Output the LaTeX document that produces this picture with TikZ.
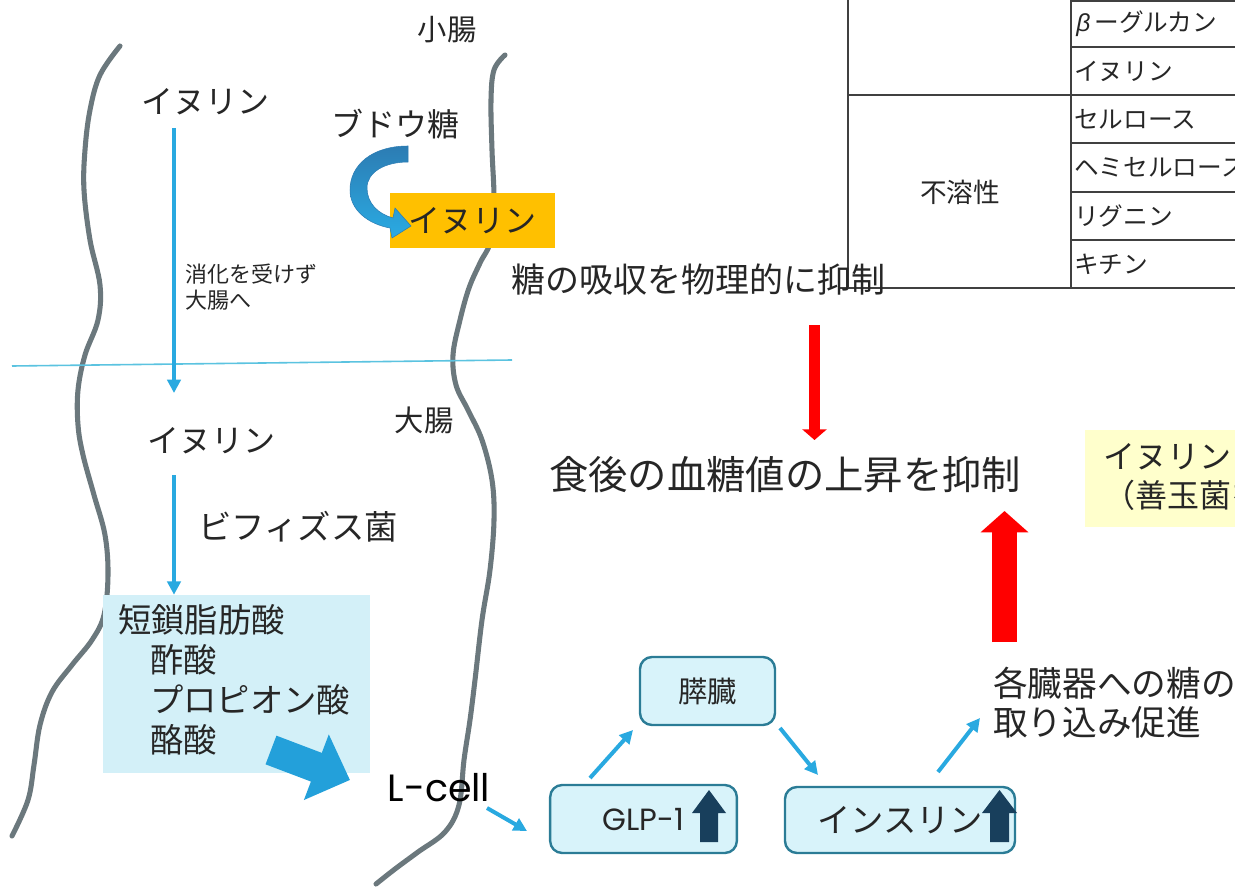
\documentclass[tikz,border=0pt]{standalone}
\usepackage{fontspec}
\setmainfont{Noto Sans CJK JP}
\newfontfamily\geo{Poppins}
\newfontfamily\grk{Liberation Sans}
\usetikzlibrary{arrows.meta}
\definecolor{textc}{HTML}{262626}
\definecolor{flowblue}{HTML}{29A9E0}
\definecolor{gutgray}{HTML}{6B787D}
\definecolor{sepblue}{HTML}{5BC3E0}
\definecolor{scfafill}{HTML}{D3F0F8}
\definecolor{boxfill}{HTML}{D8F3FA}
\definecolor{boxline}{HTML}{2B7C96}
\definecolor{navyarrow}{HTML}{183F5C}
\definecolor{inuorange}{HTML}{FFC000}
\definecolor{yelfill}{HTML}{FFFFCC}
\definecolor{tablegray}{HTML}{404040}
\definecolor{blockblue}{HTML}{23A0DA}
\definecolor{curvetop}{HTML}{2C7CB3}
\definecolor{curvebot}{HTML}{2AABE3}
\newcommand\fsz[2]{\fontsize{#1}{#2}\selectfont}
\begin{document}
\begin{tikzpicture}[x=0.75pt,y=-0.75pt,
  txt/.style={inner sep=0pt, text=textc},
  flow/.style={draw=flowblue, line width=3pt, -{Triangle[width=10pt,length=10pt]}},
  rbox/.style={draw=boxline, line width=1.8pt, fill=boxfill, rounded corners=9pt, inner sep=0pt, text=textc},
  gut/.style={draw=gutgray, line width=3.8pt, line cap=round, line join=round},
  tline/.style={draw=tablegray, line width=0.9pt},
  upmark/.style={fill=navyarrow},
  redarrow/.style={draw=red}
]
\useasboundingbox (0,0) rectangle (1235,888);
\begin{scope}
\clip (0,0) rectangle (1235,888);

% gut walls
\draw[gut] plot[smooth, tension=0.6] coordinates {(120,46) (100,75) (90,110) (85,150) (84,190) (90,240) (100,285) (98,320) (85,355) (78,390) (78,425) (83,455) (94,495) (105,535) (108,575) (104,615) (92,640) (72,665) (52,692) (40,725) (34,765) (28,800) (12,836)};
\draw[gut] plot[smooth, tension=0.6] coordinates {(505,55) (494,70) (491,100) (492,150) (494,200) (491,240) (480,263) (469,288) (460,320) (453,355) (456,385) (468,410) (482,440) (492,480) (494,520) (490,570) (482,620) (475,680) (470,720) (464,760) (459,805) (445,832) (418,852) (395,869) (376,884)};

% separator
\draw[draw=sepblue, line width=1.2pt] (12,366) -- (512,360);

% table
\draw[tline] (848,0) -- (848,288);
\draw[tline] (1071,0) -- (1071,288);
\draw[tline] (1071,1) -- (1235,1);
\draw[tline] (1071,47) -- (1235,47);
\draw[tline] (848,95) -- (1235,95);
\draw[tline] (1071,143) -- (1235,143);
\draw[tline] (1071,192) -- (1235,192);
\draw[tline] (1071,240) -- (1235,240);
\draw[tline] (840,288) -- (1235,288);
\node[txt, anchor=west, font=\fsz{18.5}{22}] (t1) at (1076,24) {{\grk\itshape β}\,ーグルカン};
\node[txt, anchor=west, font=\fsz{18.5}{22}] (t2) at (1074,71) {イヌリン};
\node[txt, anchor=west, font=\fsz{18.5}{22}] (t3) at (1074,119) {セルロース};
\node[txt, anchor=west, font=\fsz{18.5}{22}] (t4) at (1074,167) {ヘミセルロース};
\node[txt, anchor=west, font=\fsz{18.5}{22}] (t5) at (1074,216) {リグニン};
\node[txt, anchor=west, font=\fsz{18.5}{22}] (t6) at (1074,264) {キチン};
\node[txt, font=\fsz{20}{24}] (fuyo) at (960,192) {不溶性};

% small intestine part
\node[txt, font=\fsz{22}{26}] (shocho) at (447,30) {小腸};
\node[txt, font=\fsz{24}{28}] (inu1) at (205,102) {イヌリン};
\node[txt, font=\fsz{24}{28}] (budo) at (395,124) {ブドウ糖};
\node[fill=inuorange, minimum width=123.75pt, minimum height=41.25pt, inner sep=0pt, text=textc, font=\fsz{24}{28}] (inuy) at (472.5,220.5) {イヌリン};
\shade[top color=curvetop, bottom color=curvebot, draw=curvetop, line width=0.4pt]
  (408,146) .. controls (372,146) and (350,165) .. (350,190)
  .. controls (350,210) and (368,224) .. (390,228)
  -- (392,238) -- (411,226) -- (395,208) -- (393,218)
  .. controls (378,214) and (367,203) .. (367,188)
  .. controls (367,172) and (385,162) .. (408,162) -- cycle;
\node[txt, anchor=west, align=left, font=\fsz{16.5}{19.5}] (shou) at (185,287) {消化を受けず\\大腸へ};
\coordinate (a1s) at (174,128);
\coordinate (a1e) at (174,393);
\draw[flow] (a1s) -- (a1e);

% large intestine part
\node[txt, font=\fsz{22}{26}] (daicho) at (424,420) {大腸};
\node[txt, font=\fsz{24}{28}] (inu2) at (211,441) {イヌリン};
\node[txt, font=\fsz{25}{29}] (bifi) at (298,527) {ビフィズス菌};
\node[fill=scfafill, minimum width=200.25pt, minimum height=133.5pt, inner sep=0pt] (scfa) at (236.5,684) {};
\coordinate (a2s) at (174,475);
\draw[flow] (a2s) -- (scfa.north -| a2s);
\node[txt, anchor=west, font=\fsz{25}{29}] (s1) at (118,620) {短鎖脂肪酸};
\node[txt, anchor=west, font=\fsz{25}{29}] (s2) at (150,660) {酢酸};
\node[txt, anchor=west, font=\fsz{25}{29}] (s3) at (150,700) {プロピオン酸};
\node[txt, anchor=west, font=\fsz{25}{29}] (s4) at (150,740) {酪酸};
\node[txt, font=\geo\fsz{28.5}{32}, text=black] (lcell) at (439,788) {L-cell};
\coordinate (ba1) at (271,750);
\coordinate (ba2) at (350,780);
\draw[draw=blockblue, line width=23pt, -{Triangle[width=51pt,length=27pt]}] (ba1) -- (ba2);

% hormone chain
\node[rbox, minimum width=101.25pt, minimum height=51pt, font=\fsz{22}{26}] (suizo) at (707.5,691) {膵臓};
\node[rbox, minimum width=140pt, minimum height=51pt, font=\geo\fsz{23}{27}] (glp) at (643.5,819) {GLP-1\hspace{30pt}};
\node[rbox, minimum width=172.5pt, minimum height=49.5pt, font=\fsz{25}{29}] (ins) at (900,820) {インスリン};
\fill[upmark] (700,842) -- (700,813) -- (692,813) -- (709,790) -- (726,813) -- (718,813) -- (718,842) -- cycle;
\fill[upmark] (990,842) -- (990,813) -- (982,813) -- (999.5,790) -- (1017,813) -- (1009,813) -- (1009,842) -- cycle;
\coordinate (l1) at (487,808);
\coordinate (l2) at (527,831);
\draw[flow] (l1) -- (l2);
\coordinate (g1) at (590,778);
\coordinate (g2) at (633,730);
\draw[flow] (g1) -- (g2);
\coordinate (p1) at (780,728);
\coordinate (p2) at (818,775);
\draw[flow] (p1) -- (p2);
\coordinate (i1) at (938,772);
\coordinate (i2) at (980,718);
\draw[flow] (i1) -- (i2);
\node[txt, anchor=west, align=left, font=\fsz{26}{29}] (kaku) at (993,702.5) {各臓器への糖の\\取り込み促進};

% outcome
\node[txt, font=\fsz{25.5}{30}] (kyushu) at (698,280) {糖の吸収を物理的に抑制};
\node[txt, font=\fsz{29.5}{34}] (shokugo) at (785,475) {食後の血糖値の上昇を抑制};
\coordinate (rd1) at (814.5,325);
\coordinate (rd2) at (814.5,440);
\draw[redarrow, line width=8.25pt, -{Triangle[width=18pt,length=8pt]}] (rd1) -- (rd2);
\coordinate (ru1) at (1004.5,642);
\coordinate (ru2) at (1004.5,511);
\draw[redarrow, line width=18.75pt, -{Triangle[width=35pt,length=16pt]}] (ru1) -- (ru2);

% yellow note
\node[fill=yelfill, minimum width=120pt, minimum height=72.75pt, anchor=north west, inner sep=0pt] (yel) at (1085,430) {};
\node[txt, anchor=west, font=\fsz{24}{28}] (y1) at (1103,457) {イヌリン};
\node[txt, anchor=west, font=\fsz{24}{28}] (y2) at (1103,495) {（善玉菌を};
\end{scope}
\end{tikzpicture}
\end{document}
